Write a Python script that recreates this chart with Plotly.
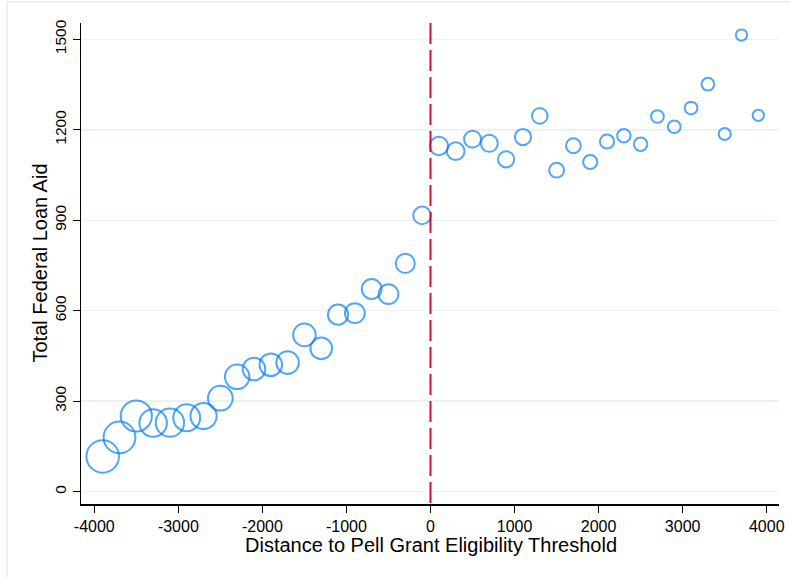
import plotly.graph_objects as go

# ---- data ----
bin_centers = [-3900, -3700, -3500, -3300, -3100, -2900, -2700, -2500, -2300, -2100,
               -1900, -1700, -1500, -1300, -1100, -900, -700, -500, -300, -100,
               100, 300, 500, 700, 900, 1100, 1300, 1500, 1700, 1900,
               2100, 2300, 2500, 2700, 2900, 3100, 3300, 3500, 3700, 3900]
loan_aid = [117, 180, 251, 228, 229, 245, 251, 310, 381, 407,
            421, 428, 520, 475, 587, 592, 672, 655, 757, 916,
            1146, 1129, 1169, 1155, 1102, 1176, 1246, 1066, 1147, 1093,
            1161, 1180, 1152, 1244, 1210, 1272, 1351, 1186, 1514, 1248]
bin_counts = [2645, 2530, 2420, 1900, 2000, 1805, 1710, 1530, 1495, 1280,
              1280, 1280, 1280, 1170, 1020, 980, 980, 980, 910, 780,
              845, 780, 720, 720, 660, 660, 605, 550, 550, 500,
              500, 450, 450, 405, 405, 405, 405, 360, 320, 320]
x_ticks = [-4000, -3000, -2000, -1000, 0, 1000, 2000, 3000, 4000]
x_tick_labels = ["-4000", "-3000", "-2000", "-1000", "0", "1000", "2000", "3000", "4000"]
y_ticks = [0, 300, 600, 900, 1200, 1500]
y_tick_labels = ["0", "300", "600", "900", "1200", "1500"]
threshold = 0
x_title = "Distance to Pell Grant Eligibility Threshold"
y_title = "Total Federal Loan Aid"

W, H = 790, 577
L, R, T, B = 81, 11, 23, 73
pw, ph = W - L - R, H - T - B

fig = go.Figure()
fig.add_trace(go.Scatter(
    x=bin_centers, y=loan_aid, mode="markers",
    marker=dict(size=bin_counts, sizemode="area", sizeref=5,
                color="rgba(0,0,0,0)",
                line=dict(color="#0A80F5", width=2)),
    showlegend=False, cliponaxis=False, hoverinfo="skip",
))

font = "Liberation Sans, Arial, Helvetica, sans-serif"
fig.update_layout(
    width=W, height=H,
    margin=dict(l=L, r=R, t=T, b=B, pad=0),
    paper_bgcolor="white", plot_bgcolor="white",
    font=dict(family=font, color="black", size=15),
    xaxis=dict(range=[-4158, 4146], tickvals=x_ticks, ticktext=x_tick_labels,
               automargin=False,
               ticks="outside", ticklen=7, tickwidth=1, tickcolor="black",
               showline=True, linecolor="black", linewidth=1.5,
               showgrid=False, zeroline=False,
               tickfont=dict(size=16)),
    yaxis=dict(range=[-40.8, 1554], tickvals=y_ticks, ticktext=y_tick_labels,
               automargin=False,
               ticks="outside", ticklen=7, tickwidth=1, tickcolor="black",
               showline=True, linecolor="black", linewidth=1.5,
               showgrid=True, gridcolor="#EAF2F3", gridwidth=1.5,
               zeroline=False, tickangle=-90,
               tickfont=dict(size=15.5)),
)

# axis titles
fig.add_annotation(text=x_title, xref="paper", yref="paper",
                   x=(431 - L) / pw, y=-(545 - T - ph) / ph,
                   xanchor="center", yanchor="middle", showarrow=False,
                   borderpad=0, font=dict(size=20))
fig.add_annotation(text=y_title, xref="paper", yref="paper",
                   x=(39 - L) / pw, y=0.5, textangle=-90,
                   xanchor="center", yanchor="middle", showarrow=False,
                   borderpad=0, font=dict(size=20))

# threshold dashed line
fig.add_shape(type="line", xref="x", yref="paper",
              x0=threshold, x1=threshold, y0=1, y1=0,
              line=dict(color="#CC1038", width=2, dash="21px,6px"))

# faint outer frame (graph region border)
fig.add_shape(type="rect", xref="paper", yref="paper",
              x0=(7 - L) / pw, x1=(W + 20 - L) / pw,
              y0=-(H + 20 - T - ph) / ph, y1=1 + (T - 2) / ph,
              line=dict(color="#E6EEF0", width=1.5), layer="below")

fig.write_html(
    "out.html",
    config={"displayModeBar": False, "staticPlot": True},
    post_script="document.body.style.margin='0';document.body.style.overflow='hidden';",
)
